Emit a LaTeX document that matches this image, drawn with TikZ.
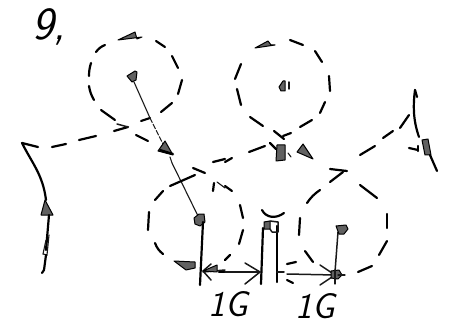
\documentclass[tikz,border=0pt]{standalone}
\begin{document}
\begin{tikzpicture}[x=1pt,y=-1pt,
  stroke/.style={line width=2.2pt,line cap=round,line join=round,black},
  thin stroke/.style={line width=1.1pt,line cap=round,black!90},
  blob/.style={fill=black!62,draw=black,line width=1pt,line join=round},
  barb/.style={line width=1.5pt,line cap=round,line join=round,black!90},
  hand/.style={inner sep=0pt,anchor=center,black}]
\useasboundingbox (0,0) rectangle (450,326);
\fill[white] (0,0) rectangle (450,326);
% labels
\node[hand,font=\sffamily\slshape\fontsize{46}{46}\selectfont] (nine) at (49,27) {9,};
\node[hand,font=\sffamily\slshape\fontsize{36}{36}\selectfont] (lblA) at (228,304) {1G};
\node[hand,font=\sffamily\slshape\fontsize{36}{36}\selectfont] (lblB) at (315,306) {1G};
% upper left circle
\draw[stroke] (96,52) to[bend left=15] (105,45);
\draw[stroke] (89,76) to[bend left=8] (91,63);
\draw[stroke] (89,86) to[bend right=10] (94,100);
\draw[stroke] (101,110) -- (115,120);
\draw[stroke] (141,121) -- (150,118);
\draw[stroke] (161,112) -- (172,103);
\draw[stroke] (178,94) -- (182,80);
\draw[stroke] (178,68) -- (172,56);
\draw[stroke] (165,47) -- (156,41);
\draw[blob] (118,40) -- (135,32) -- (137,39) -- (142,37) -- cycle;
\draw[blob] (127,76) -- (135,71) -- (137,72) -- (136,80) -- (132,82) -- cycle;
\draw[thin stroke] (134,82) -- (150,118);
\draw[thin stroke,dash pattern=on 5pt off 2pt] (150,118) -- (166,150);
\draw[thin stroke] (172,163) -- (199,218);
% incoming dashed path
\draw[stroke] (52,147) -- (66,144);
\draw[stroke] (79,140) -- (96,136);
\draw[stroke] (114,131) -- (128,127);
\draw[barb] (117,124) -- (128,127);
\draw[stroke] (136,135) -- (148,141);
\draw[blob] (165,141) -- (158,151) -- (173,155) -- cycle;
\draw[stroke] (160,150) -- (173,154);
\draw[thin stroke] (170,157) -- (172,163);
\draw[stroke] (193,168) -- (205,173);
\draw[stroke] (170,186) -- (195,175);
\draw[stroke] (213,162) -- (225,159);
\draw[stroke] (225,162) -- (232,158);
% lower left circle
\draw[stroke] (155,200) -- (163,191);
\draw[stroke] (148,230) -- (149,212);
\draw[stroke] (155,243) to[bend right=15] (163,254);
\draw[blob] (174,261) -- (195,262) -- (195,268) -- (186,270) -- cycle;
\draw[stroke] (213,191) -- (214,183);
\draw[thin stroke] (217,182) -- (225,188);
\draw[stroke] (225,186) -- (232,191);
\draw[stroke] (240,205) -- (243,218);
\draw[stroke] (243,230) -- (239,244);
\draw[stroke] (230,255) -- (225,260);
\draw[blob] (194,218) -- (199,214) -- (204,214) -- (205,222) -- (200,226) -- (195,224) -- cycle;
% upper centre circle
\draw[blob] (255,48) -- (268,41) -- (271,45) -- (275,45) -- cycle;
\draw[stroke] (290,40) -- (303,45);
\draw[stroke] (315,51) -- (322,62);
\draw[stroke] (329,76) -- (330,91);
\draw[stroke] (325,102) -- (320,113);
\draw[stroke] (312,120) -- (300,127);
\draw[stroke] (291,133) -- (283,136);
\draw[stroke] (274,131) -- (284,139);
\draw[stroke] (250,117) -- (263,126);
\draw[stroke] (241,105) -- (237,89);
\draw[stroke] (235,79) -- (241,64);
\draw[blob] (279,87) -- (283,81) -- (285,81) -- (285,91) -- (281,91) -- cycle;
\draw[barb] (289,82) -- (289,89);
% crossing below upper centre circle
\draw[stroke] (249,152) -- (265,146);
\draw[stroke] (270,143) -- (276,149);
\draw[blob] (277,145) -- (285,145) -- (285,160) -- (276,161) -- cycle;
\draw[thin stroke] (288,153) -- (291,157);
\draw[blob] (303,144) -- (297,152) -- (313,159) -- cycle;
% right dashed path and curve
\draw[stroke] (360,155) -- (375,146);
\draw[stroke] (383,138) -- (393,131);
\draw[stroke] (400,128) -- (409,115);
\draw[stroke] (415,90) .. controls (413,105) and (413,120) .. (419,137);
\draw[stroke] (415,90) -- (417,97);
\draw[blob] (422,140) -- (428,139) -- (431,155) -- (425,155) -- cycle;
\draw[stroke] (409,148) -- (418,150);
\draw[stroke] (418,146) -- (418,151);
\draw[stroke] (430,155) -- (437,171);
% left curve
\draw[stroke] (22,143) -- (38,147);
\draw[stroke] (22,143) .. controls (32,163) and (43,175) .. (46,200);
\draw[blob] (45,200) -- (41,215) -- (53,215) -- cycle;
\draw[stroke] (49,215) -- (46,250);
\draw[thin stroke] (49,235) -- (47,255) -- (43,254) -- (46,240);
\draw[stroke] (46,255) -- (44,270) -- (42,273);
% lower centre
\draw[stroke] (262,210) .. controls (266,218) and (276,219) .. (284,213);
\draw[stroke] (263,228) -- (261,284);
\draw[stroke] (277,226) -- (277,282);
\draw[blob] (264,222) -- (270,221) -- (270,229) -- (264,229) -- cycle;
\draw[barb] (270,221) -- (278,222) -- (278,232) -- (272,232) -- (270,229);
\draw[stroke] (203,222) -- (200,285);
% dimension arrows
\draw[barb] (203,272) -- (225,270);
\draw[barb] (211,264) -- (203,271) -- (211,280);
\draw[blob] (203,271) -- (217,265) -- (217,272) -- cycle;
\draw[stroke] (219,272) -- (225,272);
\draw[barb] (225,272) -- (260,272);
\draw[barb] (245,263) -- (260,272) -- (245,284);
\draw[barb] (277,272) -- (284,272);
\draw[stroke] (287,264) -- (296,262);
\draw[stroke] (287,280) -- (293,283);
\draw[barb] (287,274) -- (335,275);
\draw[barb] (320,265) -- (335,275) -- (320,285);
\draw[blob] (331,271) -- (339,270) -- (342,275) -- (338,279) -- (331,278) -- cycle;
\draw[thin stroke] (335,270) -- (335,284);
\draw[thin stroke] (338,275) -- (345,275);
\draw[barb] (335,272) -- (338,232);
\draw[blob] (336,226) -- (346,225) -- (348,229) -- (344,234) -- (339,234) -- cycle;
% lower right circle
\draw[stroke] (307,203) to[bend left=10] (320,190);
\draw[stroke] (330,169) -- (347,171);
\draw[stroke] (330,182) -- (343,172);
\draw[stroke] (360,185) -- (377,198);
\draw[stroke] (387,214) -- (387,228);
\draw[stroke] (387,241) -- (379,255);
\draw[stroke] (372,266) -- (358,272);
\draw[stroke] (305,251) -- (313,262);
\draw[stroke] (300,218) -- (299,235);
\end{tikzpicture}
\end{document}
